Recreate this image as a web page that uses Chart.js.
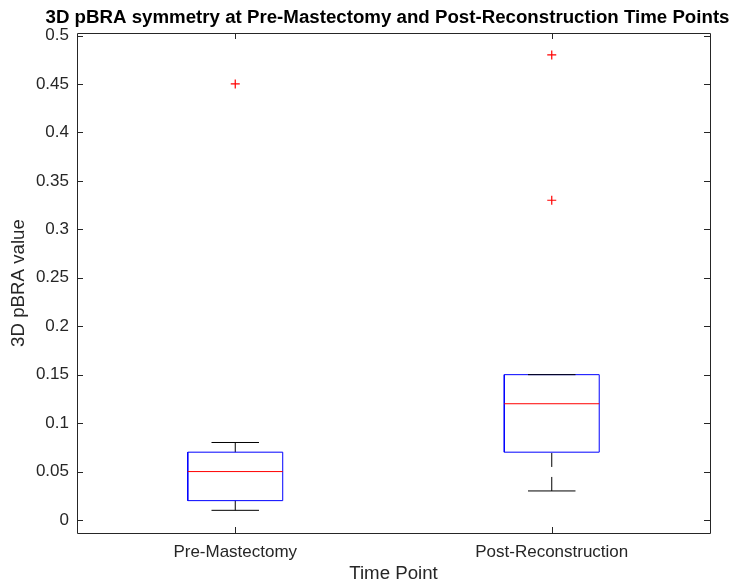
<!DOCTYPE html>
<html>
<head>
<meta charset="utf-8">
<script src="https://cdn.jsdelivr.net/npm/chart.js@4"></script>
<style>
  html, body { margin: 0; padding: 0; background: #fff; }
  canvas { display: block; }
</style>
</head>
<body>
<canvas id="boxChart" width="740" height="585"></canvas>
<script>
// box plot summary
const categories = ['Pre-Mastectomy', 'Post-Reconstruction'];
const lowerWhisker = [0.01, 0.03];
const q1 = [0.02, 0.07];
const median = [0.05, 0.12];
const q3 = [0.07, 0.15];
const upperWhisker = [0.08, 0.15];
const outliers = [[0.45], [0.33, 0.48]];
const yTicks = [0, 0.05, 0.1, 0.15, 0.2, 0.25, 0.3, 0.35, 0.4, 0.45, 0.5];

const boxHalf = 0.15;
const capHalf = 0.075;
const fontFamily = '"Liberation Sans", Arial, Helvetica, sans-serif';
const axisColor = '#262626';
const tickSize = 17;
const labelSize = 18.7;   // labels and title are 1.1x the tick font

function buildBoxes() {
    const pts = [];
    categories.forEach(function(c, i) {
        const x = i + 1;
        pts.push({x: x - boxHalf, y: q1[i]}, {x: x + boxHalf, y: q1[i]},
                 {x: x + boxHalf, y: q3[i]}, {x: x - boxHalf, y: q3[i]},
                 {x: x - boxHalf, y: q1[i]}, {x: x, y: null});
    });
    return pts;
}

function buildMedians() {
    const pts = [];
    categories.forEach(function(c, i) {
        pts.push({x: i + 1 - boxHalf, y: median[i]}, {x: i + 1 + boxHalf, y: median[i]}, {x: i + 1, y: null});
    });
    return pts;
}

function buildWhiskers() {
    const pts = [];
    categories.forEach(function(c, i) {
        const x = i + 1;
        pts.push({x: x, y: upperWhisker[i]}, {x: x, y: q3[i]}, {x: x, y: null});
        pts.push({x: x, y: lowerWhisker[i]}, {x: x, y: q1[i]}, {x: x, y: null});
    });
    return pts;
}

function buildCaps() {
    const pts = [];
    categories.forEach(function(c, i) {
        const x = i + 1;
        pts.push({x: x - capHalf, y: upperWhisker[i]}, {x: x + capHalf, y: upperWhisker[i]}, {x: x, y: null});
        pts.push({x: x - capHalf, y: lowerWhisker[i]}, {x: x + capHalf, y: lowerWhisker[i]}, {x: x, y: null});
    });
    return pts;
}

function buildOutliers() {
    const pts = [];
    outliers.forEach(function(list, i) {
        list.forEach(function(v) { pts.push({x: i + 1, y: v}); });
    });
    return pts;
}

// MATLAB style frame with inward ticks on all four sides
const framePlugin = {
    id: 'frame',
    afterLayout: function(chart) {
        // centre the title the way the figure does
        chart.titleBlock.left = 35;
        chart.titleBlock.right = 740;
        chart.titleBlock.width = 705;
    },
    afterDatasetsDraw: function(chart) {
        const ctx = chart.ctx;
        const a = chart.chartArea;
        const xs = chart.scales.x;
        const ys = chart.scales.y;
        const tl = 6;
        ctx.save();
        ctx.strokeStyle = axisColor;
        ctx.lineWidth = 1;
        ctx.beginPath();
        ctx.rect(Math.round(a.left) + 0.5, Math.round(a.top) + 0.5,
                 Math.round(a.right - a.left), Math.round(a.bottom - a.top));
        ys.ticks.forEach(function(t) {
            const y = Math.round(ys.getPixelForValue(t.value)) + 0.5;
            ctx.moveTo(a.left, y); ctx.lineTo(a.left + tl, y);
            ctx.moveTo(a.right, y); ctx.lineTo(a.right - tl, y);
        });
        xs.ticks.forEach(function(t) {
            const x = Math.round(xs.getPixelForValue(t.value)) + 0.5;
            ctx.moveTo(x, a.bottom); ctx.lineTo(x, a.bottom - tl);
            ctx.moveTo(x, a.top); ctx.lineTo(x, a.top + tl);
        });
        ctx.stroke();
        ctx.restore();
    }
};

const ctx = document.getElementById('boxChart').getContext('2d');

new Chart(ctx, {
    type: 'line',
    data: {
        datasets: [
            {
                label: 'Outliers',
                data: buildOutliers(),
                showLine: false,
                pointStyle: 'cross',
                pointRadius: 4.5,
                borderColor: '#ff0000',
                pointBorderWidth: 1.2
            },
            {
                label: 'Median',
                data: buildMedians(),
                borderColor: '#ff0000',
                borderWidth: 1,
                pointRadius: 0
            },
            {
                label: 'Caps',
                data: buildCaps(),
                borderColor: '#000000',
                borderWidth: 1,
                pointRadius: 0
            },
            {
                label: 'Box',
                data: buildBoxes(),
                borderColor: '#0000ff',
                borderWidth: 1,
                pointRadius: 0
            },
            {
                label: 'Whiskers',
                data: buildWhiskers(),
                borderColor: '#000000',
                borderWidth: 1,
                borderDash: [14, 10],
                pointRadius: 0
            }
        ]
    },
    options: {
        responsive: false,
        animation: false,
        devicePixelRatio: 1,
        spanGaps: false,
        layout: { padding: { left: 0, right: 0, top: 0, bottom: 0 } },
        plugins: {
            legend: { display: false },
            tooltip: { enabled: false },
            title: {
                display: true,
                text: '3D pBRA symmetry at Pre-Mastectomy and Post-Reconstruction Time Points',
                color: '#000000',
                font: { family: fontFamily, size: labelSize, weight: 'bold', lineHeight: 1.2 },
                padding: { top: 6.6, bottom: 3.96 }
            }
        },
        scales: {
            x: {
                type: 'linear',
                min: 0.5,
                max: 2.5,
                grid: { display: false, drawTicks: false },
                border: { display: false },
                afterBuildTicks: function(scale) {
                    scale.ticks = categories.map(function(c, i) { return {value: i + 1}; });
                },
                afterFit: function(scale) { scale.height = 52; },
                ticks: {
                    color: axisColor,
                    padding: 9,
                    maxRotation: 0,
                    font: { family: fontFamily, size: tickSize },
                    callback: function(v) { return categories[Math.round(v) - 1]; }
                },
                title: {
                    display: true,
                    text: 'Time Point',
                    color: axisColor,
                    font: { family: fontFamily, size: labelSize },
                    padding: { top: 0, bottom: 0.3 }
                }
            },
            y: {
                min: -0.0134,
                max: 0.5026,
                grid: { display: false, drawTicks: false },
                border: { display: false },
                afterBuildTicks: function(scale) {
                    scale.ticks = yTicks.map(function(v) { return {value: v}; });
                },
                afterFit: function(scale) { scale.width = 77; },
                ticks: {
                    color: axisColor,
                    padding: 8,
                    font: { family: fontFamily, size: tickSize },
                    callback: function(v) { return String(v); }
                },
                title: {
                    display: true,
                    text: '3D pBRA value',
                    color: axisColor,
                    font: { family: fontFamily, size: labelSize },
                    padding: { top: 7.3, bottom: 0 }
                }
            },
            y2: {
                position: 'right',
                min: 0,
                max: 1,
                grid: { display: false, drawTicks: false },
                border: { display: false },
                ticks: { display: false },
                afterFit: function(scale) { scale.width = 30; }
            }
        }
    },
    plugins: [framePlugin]
});
</script>
</body>
</html>
